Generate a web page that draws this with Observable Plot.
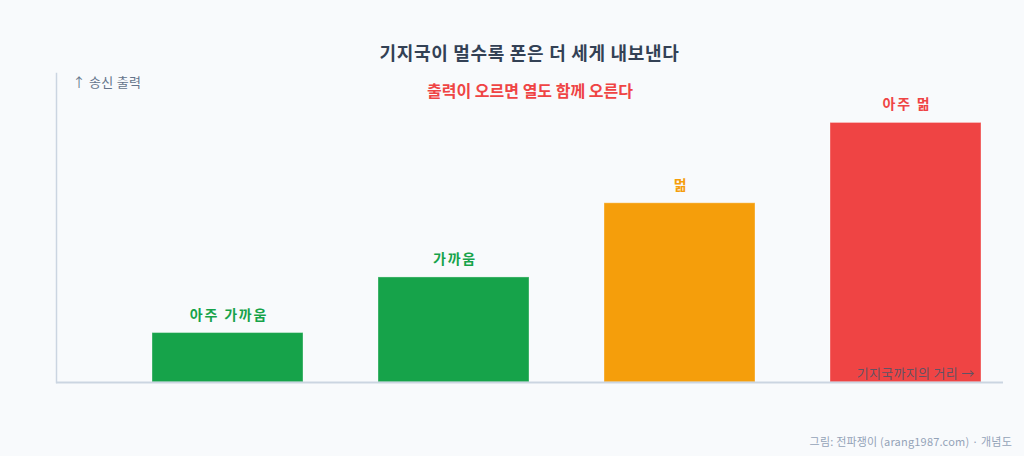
<!DOCTYPE html>
<html>
<head>
<meta charset="utf-8">
<script src="https://cdn.jsdelivr.net/npm/d3@7"></script>
<script src="https://cdn.jsdelivr.net/npm/@observablehq/plot@0.6"></script>
<style>
  html, body { margin: 0; padding: 0; background: #f8fafc; }
  body { width: 1024px; height: 456px; position: relative; overflow: hidden; font-family: "Noto Sans CJK KR", "Noto Sans", sans-serif; }
  #title { position: absolute; left: 56px; width: 947px; top: 40px; text-align: center; font-size: 18px; letter-spacing: 0.7px; font-weight: 700; color: #334155; line-height: 24px; }
  #caption { position: absolute; right: 12px; top: 432px; font-size: 11px; color: #94a3b8; line-height: 18px; letter-spacing: 0.2px; }
  #chart { position: absolute; left: 0; top: 0; }
</style>
</head>
<body>
<div id="chart"></div>
<div id="title">기지국이 멀수록 폰은 더 세게 내보낸다</div>
<div id="caption">그림: 전파쟁이 (arang1987.com) · 개념도</div>
<script>
const categories = ["아주 가까움", "가까움", "멂", "아주 멂"];
const power = [16, 34, 58, 84];
const colors = ["#16a34a", "#16a34a", "#f59e0b", "#ef4444"];
const yLabel = "↑ 송신 출력";
const xLabel = "기지국까지의 거리 →";
const note = "출력이 오르면 열도 함께 오른다";

const data = categories.map((c, i) => ({cat: c, v: power[i], color: colors[i]}));

const chart = Plot.plot({
  width: 1024,
  height: 456,
  marginTop: 73,
  marginBottom: 74,
  marginLeft: 56,
  marginRight: 21,
  style: {background: "transparent", fontFamily: "'Noto Sans CJK KR', 'Noto Sans', sans-serif"},
  x: {domain: categories, paddingInner: 0.33, paddingOuter: 0.255, align: 0.82, axis: null},
  y: {domain: [0, 100], axis: null},
  marks: [
    Plot.barY(data, {x: "cat", y: "v", fill: "color", stroke: "white", strokeOpacity: 0.35, strokeWidth: 1}),
    Plot.text(data, {x: "cat", y: "v", text: "cat", fill: "color", dy: -18, dx: 1, fontSize: 14, fontWeight: 700}),
    Plot.frame({anchor: "left", stroke: "#cbd5e1", strokeWidth: 1.5}),
    Plot.ruleY([0], {stroke: "#cbd5e1", strokeWidth: 2}),
    Plot.text([yLabel], {frameAnchor: "top-left", dx: 16, dy: 4, textAnchor: "start", fill: "#64748b", fontSize: 13}),
    Plot.text([note], {frameAnchor: "top", dy: 12, fill: "#ef4444", fontSize: 16, fontWeight: 700}),
    Plot.text([xLabel], {frameAnchor: "bottom-right", dx: -29, dy: -5, textAnchor: "end", fill: "#475569", fillOpacity: 0.85, fontSize: 13})
  ]
});
const s = d3.select(chart);
s.selectAll("text").filter(function() { return categories.includes(this.textContent); }).attr("letter-spacing", "1.8px");
s.selectAll("text").filter(function() { return this.textContent === yLabel || this.textContent === xLabel; }).attr("letter-spacing", "0.3px");
document.getElementById("chart").appendChild(chart);
</script>
</body>
</html>
